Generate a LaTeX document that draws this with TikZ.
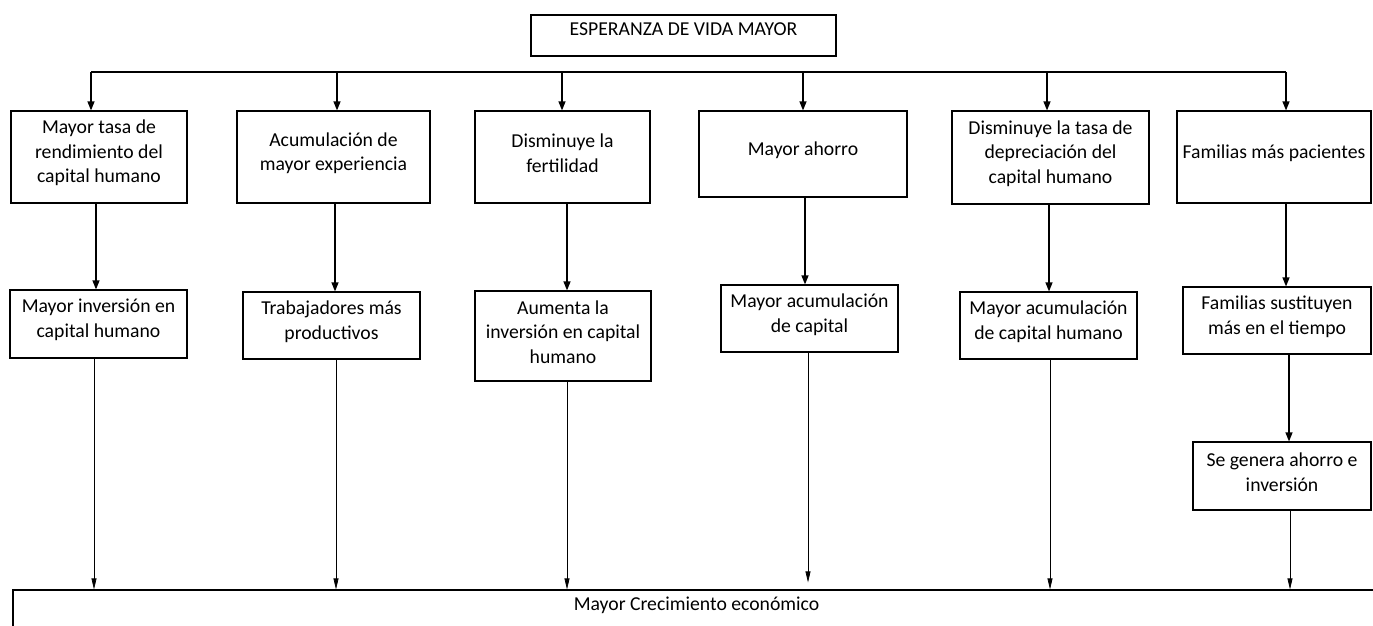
\documentclass[tikz,border=0pt]{standalone}
\usepackage{fontspec}
\setmainfont{Carlito}
\usetikzlibrary{arrows.meta}
\begin{document}
\begin{tikzpicture}[x=1pt, y=-1pt,
  box/.style={draw, line width=1.2pt, inner sep=0pt},
  txt/.style={align=center, inner sep=0pt, font=\fontsize{19.7}{24.5}\selectfont},
  mid/.style={txt, yshift=4pt},
  arr/.style={line width=1.2pt, -{Triangle[length=9pt,width=7pt]}},
  longarr/.style={line width=0.7pt, -{Triangle[length=11pt,width=5pt]}}]
  \useasboundingbox (0,0) rectangle (1373,625);

  % top
  \node[box, minimum width=305, minimum height=41, label={[txt,yshift=6pt]center:ESPERANZA DE VIDA MAYOR}] (vida) at (683.5,35.5) {};

  % first row
  \node[box, minimum width=176, minimum height=92, label={[mid]center:Mayor tasa de\\rendimiento del\\capital humano}] (1) at (99,157) {};
  \node[box, minimum width=193, minimum height=92, label={[mid]center:Acumulación de\\mayor experiencia}] (2) at (333.5,157) {};
  \node[box, minimum width=175, minimum height=92, label={[mid]center:Disminuye la\\fertilidad}] (3) at (562.5,157) {};
  \node[box, minimum width=208, minimum height=86, label={[mid]center:Mayor ahorro}] (4) at (803,154) {};
  \node[box, minimum width=197, minimum height=93, label={[mid]center:Disminuye la tasa de\\depreciación del\\capital humano}] (5) at (1050.5,157.5) {};
  \node[box, minimum width=194, minimum height=92, label={[mid]center:Familias más pacientes}] (6) at (1274,157) {};

  % second row
  \node[box, minimum width=177, minimum height=68, label={[mid]center:Mayor inversión en\\capital humano}] (1b) at (98.5,324) {};
  \node[box, minimum width=177, minimum height=67, label={[mid]center:Trabajadores más\\productivos}] (2b) at (331.5,325.5) {};
  \node[box, minimum width=176, minimum height=90, label={[mid]center:Aumenta la\\inversión en capital\\humano}] (3b) at (563,336) {};
  \node[box, minimum width=177, minimum height=67, label={[mid]center:Mayor acumulación\\de capital}] (4b) at (809.5,318.5) {};
  \node[box, minimum width=177, minimum height=67, label={[mid]center:Mayor acumulación\\de capital humano}] (5b) at (1048.5,325.5) {};
  \node[box, minimum width=188, minimum height=67, label={[mid]center:Familias sustituyen\\más en el tiempo}] (6b) at (1277,320.5) {};
  \node[box, minimum width=178, minimum height=68, label={[mid]center:Se genera ahorro e\\inversión}] (6c) at (1282,476) {};

  % bottom
  \node[box, minimum width=1367, minimum height=70, label={[txt,anchor=north,yshift=-7pt]north:Mayor Crecimiento económico}] (crec) at (696.5,625) {};

  % bus
  \coordinate (k1) at (91,72);
  \coordinate (k6) at (1286,72);
  \draw[line width=1.2pt] (k1) -- (k6);
  \foreach \n/\x in {1/91,2/337,3/562,4/803,5/1047,6/1286}
    \draw[arr] (k1 -| \x,0) -- (\n.north -| \x,0);

  \foreach \n/\x in {1/96,2/335,3/567,4/805,5/1049,6/1286}
    \draw[arr] (\n.south -| \x,0) -- (\n b.north -| \x,0);
  \draw[arr] (6b.south -| 1289,0) -- (6c.north -| 1289,0);

  \foreach \n/\x in {1b/94,2b/336,3b/567,5b/1050,6c/1290}
    \draw[longarr] (\n.south -| \x,0) -- (crec.north -| \x,0);
  \draw[longarr] (4b.south -| 808,0) -- ([yshift=7pt]crec.north -| 808,0);
\end{tikzpicture}
\end{document}
